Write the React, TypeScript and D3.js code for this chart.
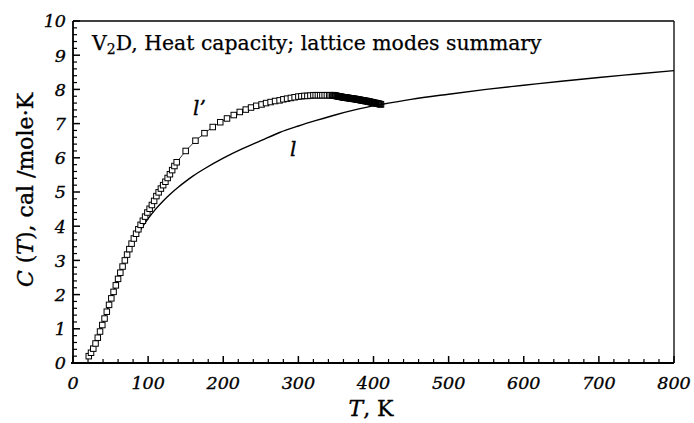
import React from "react";
import * as d3 from "d3";

// Curve l (solid line): temperature (K) and heat capacity (cal/mole·K)
const lineT = [20, 25, 30, 35, 40, 45, 50, 55, 60, 65, 70, 75, 80, 85, 90, 100, 110, 120, 130, 140, 150, 160, 175, 200, 225, 250, 275, 300, 325, 350, 375, 400, 410, 450, 500, 550, 600, 650, 700, 750, 800];
const lineC = [0.17, 0.33, 0.57, 0.86, 1.17, 1.5, 1.83, 2.15, 2.46, 2.76, 3.05, 3.3, 3.52, 3.72, 3.9, 4.22, 4.5, 4.74, 4.95, 5.14, 5.31, 5.47, 5.68, 5.99, 6.26, 6.5, 6.74, 6.93, 7.1, 7.26, 7.4, 7.52, 7.56, 7.71, 7.86, 8.0, 8.12, 8.24, 8.35, 8.45, 8.55];

// Curve l' (squares)
const sqT = [21, 24, 27, 30, 33, 36, 39, 42, 45, 48, 51, 54, 57, 60, 63, 66, 69, 72, 75, 78, 81, 84, 87, 90, 93, 96, 99, 102, 105, 108, 111, 114, 117, 120, 123, 126, 129, 132, 135, 138,
  150, 163, 175, 186, 196, 205, 214, 222, 230, 237, 244, 251, 257, 263, 269, 275, 280, 285, 290, 295, 300, 304, 308, 312, 316, 320, 323, 326, 329, 332, 335, 338, 341, 343, 345,
  346, 347, 348, 349, 350, 351, 352, 353, 354, 355, 356, 357, 358, 359, 360, 361, 362, 363, 364, 365, 366, 367, 368, 369, 370, 371, 372, 373, 374, 375, 376, 377, 378, 379, 380,
  381, 382, 383, 384, 385, 386, 387, 388, 389, 390, 391, 392, 393, 394, 395, 396, 397, 398, 399, 400, 401, 402, 403, 404, 405, 406, 407, 408, 409, 410];
const sqC = [0.2, 0.3, 0.42, 0.57, 0.74, 0.92, 1.11, 1.3, 1.5, 1.7, 1.89, 2.08, 2.27, 2.46, 2.64, 2.82, 3.0, 3.17, 3.33, 3.49, 3.64, 3.78, 3.91, 4.04, 4.16, 4.28, 4.4, 4.51, 4.62, 4.74, 4.88, 4.99, 5.1, 5.2, 5.3, 5.41, 5.52, 5.64, 5.76, 5.87,
  6.2, 6.5, 6.72, 6.9, 7.04, 7.15, 7.25, 7.34, 7.41, 7.47, 7.52, 7.56, 7.6, 7.63, 7.66, 7.68, 7.71, 7.73, 7.75, 7.77, 7.79, 7.8, 7.81, 7.81, 7.82, 7.83, 7.83, 7.83, 7.83, 7.83, 7.83, 7.83, 7.83, 7.83, 7.83,
  7.83, 7.83, 7.82, 7.82, 7.81, 7.81, 7.8, 7.8, 7.79, 7.79, 7.79, 7.78, 7.78, 7.77, 7.77, 7.77, 7.76, 7.76, 7.76, 7.75, 7.75, 7.75, 7.74, 7.74, 7.74, 7.73, 7.73, 7.73, 7.72, 7.72, 7.72, 7.71, 7.71, 7.7, 7.7,
  7.7, 7.69, 7.69, 7.68, 7.68, 7.68, 7.67, 7.67, 7.66, 7.66, 7.66, 7.65, 7.65, 7.64, 7.64, 7.63, 7.63, 7.62, 7.62, 7.61, 7.61, 7.6, 7.6, 7.59, 7.59, 7.58, 7.58, 7.57, 7.57, 7.56];

const xTicks = [0, 100, 200, 300, 400, 500, 600, 700, 800];
const yTicks = [0, 1, 2, 3, 4, 5, 6, 7, 8, 9, 10];

const W = 694;
const H = 423;
const L = 73, R = 674, T = 21, B = 363;
const FONT = "'DejaVu Serif', serif";
const TXT = { stroke: "#000", strokeWidth: 0.35 };

export default function App() {
  const x = d3.scaleLinear().domain([0, 800]).range([L, R]);
  const y = d3.scaleLinear().domain([0, 10]).range([B, T]);
  const lineGen = d3.line<number>().x((d) => x(lineT[d])).y((d) => y(lineC[d])).curve(d3.curveMonotoneX);
  const sqGen = d3.line<number>().x((d) => x(sqT[d])).y((d) => y(sqC[d]));
  const xMinor = d3.range(0, 801, 20).filter((v) => v % 100 !== 0);
  const yMinor = d3.range(0, 50).map((i) => i * 0.2).filter((v, i) => i % 5 !== 0);
  const s = 5.5;
  return (
    <svg width={W} height={H} style={{ position: "absolute", left: 0, top: 0, background: "#fff" }}>
      <rect x={0} y={0} width={W} height={H} fill="#fff" />
      {/* frame */}
      <line x1={L} y1={T} x2={R} y2={T} stroke="#000" strokeWidth={1.3} />
      <line x1={R} y1={T} x2={R} y2={B} stroke="#000" strokeWidth={1.3} />
      <line x1={L} y1={T} x2={L} y2={B + 1} stroke="#000" strokeWidth={1.8} />
      <line x1={L - 2} y1={B} x2={R} y2={B} stroke="#000" strokeWidth={1.8} />
      {/* y ticks */}
      {yTicks.map((v) => (
        <line key={"ym" + v} x1={L} x2={L + 7} y1={y(v)} y2={y(v)} stroke="#000" strokeWidth={1.5} />
      ))}
      {yMinor.map((v, i) => (
        <line key={"yn" + i} x1={L} x2={L + 4} y1={y(v)} y2={y(v)} stroke="#000" strokeWidth={1.2} />
      ))}
      {xTicks.map((v) => (
        <line key={"xm" + v} x1={x(v)} x2={x(v)} y1={B} y2={B - 7} stroke="#000" strokeWidth={1.5} />
      ))}
      {xMinor.map((v, i) => (
        <line key={"xn" + i} x1={x(v)} x2={x(v)} y1={B} y2={B - 4} stroke="#000" strokeWidth={1.2} />
      ))}
      {/* tick labels */}
      {yTicks.map((v) => (
        <text key={"yl" + v} x={L - 7} y={y(v)} dy="0.36em" textAnchor="end" fontFamily={FONT} fontStyle="italic" fontSize={17.5} {...TXT}>
          {v}
        </text>
      ))}
      {xTicks.map((v) => (
        <text key={"xl" + v} x={x(v)} y={389} textAnchor="middle" fontFamily={FONT} fontStyle="italic" fontSize={17.5} {...TXT}>
          {v}
        </text>
      ))}
      {/* axis titles */}
      <text x={371} y={416} textAnchor="middle" fontFamily={FONT} fontSize={22} {...TXT}>
        <tspan fontStyle="italic">T</tspan>, K
      </text>
      <text transform="translate(33,190) rotate(-90)" textAnchor="middle" fontFamily={FONT} fontSize={22} {...TXT}>
        <tspan fontStyle="italic">C</tspan> (<tspan fontStyle="italic">T</tspan>), cal /mole·K
      </text>
      {/* annotation */}
      <text x={92} y={50} fontFamily={FONT} fontSize={20.4} {...TXT} strokeWidth={0.25}>
        V<tspan fontSize={14} dy={4}>2</tspan><tspan dy={-4}>D, Heat capacity; lattice modes summary</tspan>
      </text>
      {/* curve l */}
      <path d={lineGen(d3.range(lineT.length)) || ""} fill="none" stroke="#000" strokeWidth={1.4} />
      {/* curve l' */}
      <path d={sqGen(d3.range(sqT.length)) || ""} fill="none" stroke="#000" strokeWidth={0.8} />
      {sqT.map((t, i) => (
        <rect key={"sq" + i} x={x(t) - s / 2} y={y(sqC[i]) - s / 2} width={s} height={s}
          fill={t >= 346 ? "none" : "#fff"} stroke="#000" strokeWidth={1} />
      ))}
      {/* curve labels */}
      <text x={193} y={115} fontFamily={FONT} fontStyle="italic" fontSize={20} {...TXT}>l’</text>
      <text x={290} y={156} fontFamily={FONT} fontStyle="italic" fontSize={20} {...TXT}>l</text>
    </svg>
  );
}
